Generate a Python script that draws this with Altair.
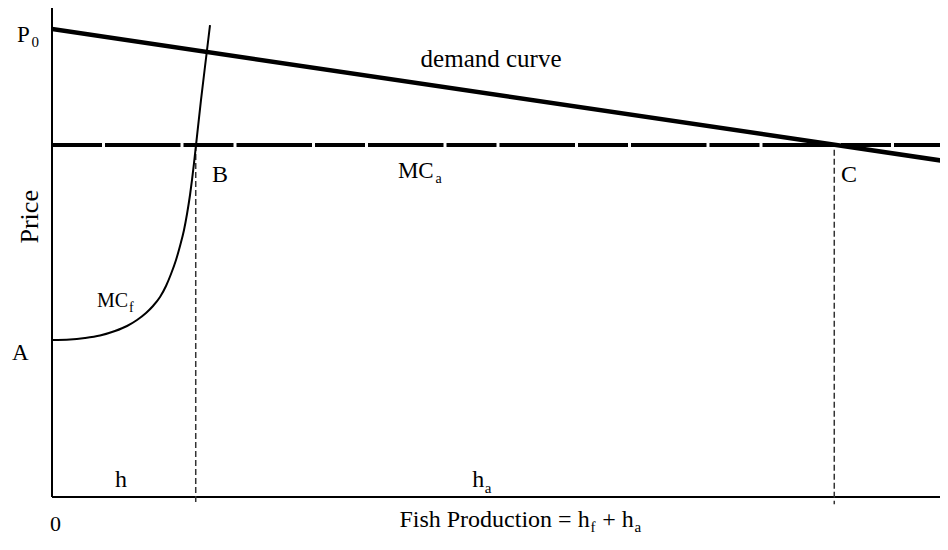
import altair as alt
import pandas as pd

# ---- data (quantity 0..100, price 0..100) ----
demand_q = [0, 100]
demand_p = [95.7, 68.6]

mca_q = [0, 100]
mca_p = [72.0, 72.0]

mcf_q = [0, 2.009, 3.683, 5.357, 7.031, 8.371, 9.487, 10.491, 11.272, 12.054,
         12.723, 13.281, 13.839, 14.286, 14.732, 15.067, 15.402, 15.625, 15.848,
         16.071, 16.629, 17.299, 17.634]
mcf_p = [32.11, 32.21, 32.52, 33.03, 33.95, 34.97, 36.20, 37.63, 39.06, 40.90,
         43.15, 45.60, 48.47, 51.33, 54.60, 57.87, 61.76, 64.83, 68.30,
         71.98, 81.19, 91.41, 96.52]

drop_q = [16.04, 87.3]        # B and C
drop_top = [72.0, 71.0]
drop_bottom = [-1.3, -1.5]

# annotation labels: text, x, y, size, align, angle
labels = [
    ("P", -3.91, 93.05, 23, "left", 0),
    ("0", -2.30, 92.0, 15, "left", 0),
    ("A", -4.46, 28.0, 23, "left", 0),
    ("Price", -1.56, 57.3, 26, "center", 270),
    ("0", -0.22, -6.9, 22, "left", 0),
    ("h", 7.03, 2.04, 24, "left", 0),
    ("h", 46.9, 2.04, 24, "left", 0),
    ("a", 48.3, 0.82, 15, "left", 0),
    ("Fish Production = h", 60.0, -6.13, 24, "right", 0),
    ("f", 60.1, -7.16, 15, "left", 0),
    ("+ h", 61.4, -6.13, 24, "left", 0),
    ("a", 65.0, -7.16, 15, "left", 0),
    ("B", 17.86, 64.4, 24, "left", 0),
    ("C", 88.06, 64.4, 24, "left", 0),
    ("MC", 38.6, 65.2, 23, "left", 0),
    ("a", 42.8, 64.2, 14, "left", 0),
    ("MC", 5.02, 38.85, 20, "left", 0),
    ("f", 8.6, 37.8, 14, "left", 0),
    ("demand curve", 49.0, 87.9, 25, "center", 0),
]

FONT = "Liberation Serif"
X_MAX = 99.1
xs = alt.Scale(domain=[0, X_MAX], nice=False, zero=False)
ys = alt.Scale(domain=[0, 100], nice=False, zero=False)

axes_df = pd.DataFrame({"x": [0, 0], "x2": [X_MAX, 0], "y": [0, 0], "y2": [0, 100]})
axes = alt.Chart(axes_df).mark_rule(color="black", strokeWidth=2).encode(
    x=alt.X("x:Q", scale=xs, axis=None), x2="x2:Q",
    y=alt.Y("y:Q", scale=ys, axis=None), y2="y2:Q")

demand = alt.Chart(pd.DataFrame({"q": demand_q, "p": demand_p})).mark_line(
    color="black", strokeWidth=4.5, clip=True).encode(
    x=alt.X("q:Q", scale=xs, axis=None), y=alt.Y("p:Q", scale=ys, axis=None))

mca = alt.Chart(pd.DataFrame({"q": mca_q, "p": mca_p})).mark_line(
    color="black", strokeWidth=4, strokeDash=[50, 3, 75.5, 3], strokeCap="butt",
    clip=True).encode(
    x=alt.X("q:Q", scale=xs, axis=None), y=alt.Y("p:Q", scale=ys, axis=None))

mcf = alt.Chart(pd.DataFrame({"q": mcf_q, "p": mcf_p, "o": list(range(len(mcf_q)))})).mark_line(
    color="black", strokeWidth=2, interpolate="monotone").encode(
    x=alt.X("q:Q", scale=xs, axis=None), y=alt.Y("p:Q", scale=ys, axis=None), order="o:Q")

drops = alt.Chart(pd.DataFrame({"q": drop_q, "top": drop_top, "bot": drop_bottom})).mark_rule(
    color="#333333", strokeWidth=1.5, strokeDash=[6, 3]).encode(
    x=alt.X("q:Q", scale=xs, axis=None),
    y=alt.Y("top:Q", scale=ys, axis=None), y2="bot:Q")

layers = [axes, drops, mcf, demand, mca]
for txt, x, y, size, align, angle in labels:
    layers.append(
        alt.Chart(pd.DataFrame({"t": [txt], "x": [x], "y": [y]})).mark_text(
            font=FONT, fontSize=size, align=align, baseline="alphabetic",
            angle=angle, color="black").encode(
            x=alt.X("x:Q", scale=xs, axis=None),
            y=alt.Y("y:Q", scale=ys, axis=None),
            text="t:N"))

chart = alt.layer(*layers).properties(
    width=888, height=489,
    autosize=alt.AutoSizeParams(type="none"),
    padding={"left": 44, "top": 0, "right": 0, "bottom": 39},
    background="white",
).configure_view(stroke=None)

chart.save("out.html", embed_options={"renderer": "svg", "actions": False})
